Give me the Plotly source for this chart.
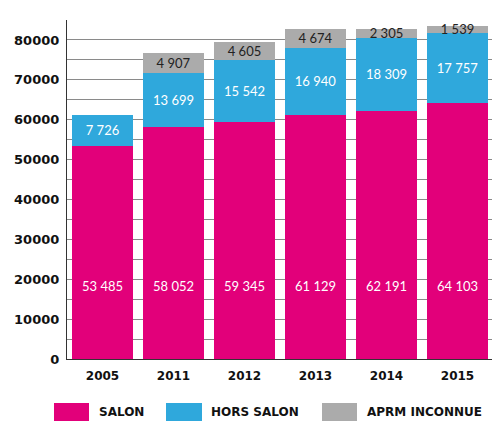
import plotly.graph_objects as go

years = ["2005", "2011", "2012", "2013", "2014", "2015"]
salon = [53485, 58052, 59345, 61129, 62191, 64103]
hors_salon = [7726, 13699, 15542, 16940, 18309, 17757]
aprm_inconnue = [None, 4907, 4605, 4674, 2305, 1539]

series_names = ["SALON", "HORS SALON", "APRM INCONNUE"]
colors = ["#E2007A", "#2FA8DC", "#ABABAB"]


def fmt(v):
    return "" if v is None else f"{v:,}".replace(",", " ")


label_font = dict(family="Lato", size=13)
fig = go.Figure()

fig.add_trace(go.Bar(x=years, y=salon, name=series_names[0],
                     marker=dict(color=colors[0], line=dict(width=0))))
fig.add_trace(go.Bar(x=years, y=hors_salon, name=series_names[1],
                     marker=dict(color=colors[1], line=dict(width=0)),
                     text=[fmt(v) for v in hors_salon], textposition="inside",
                     insidetextanchor="middle", constraintext="none",
                     textfont=dict(label_font, color="white")))
fig.add_trace(go.Bar(x=years, y=aprm_inconnue, name=series_names[2],
                     marker=dict(color=colors[2], line=dict(width=0)),
                     text=[fmt(v) for v in aprm_inconnue], textposition="inside",
                     insidetextanchor="middle", constraintext="none",
                     textfont=dict(label_font, color="#222222")))

# salon values sit low in the bar in the original
fig.add_trace(go.Scatter(x=years, y=[17800] * len(years), mode="text",
                         text=[fmt(v) for v in salon],
                         textfont=dict(label_font, color="white"),
                         cliponaxis=False))

# page has an 8px body margin; plot area spans x 67..493, y 20..359
PL, PW, PB, PH = 67, 426, 359, 339

# custom legend with wide swatches (pixel positions in the page)
legend_pos = [(54, 89, 97), (166, 202, 209), (322, 357, 365)]
for name, col, (x0, x1, tx) in zip(series_names, colors, legend_pos):
    fig.add_shape(type="rect", xref="paper", yref="paper",
                  x0=(x0 - PL) / PW, x1=(x1 - PL) / PW,
                  y0=-(403 - PB) / PH, y1=-(421 - PB) / PH,
                  fillcolor=col, line=dict(width=0))
    fig.add_annotation(xref="paper", yref="paper", x=(tx - PL) / PW,
                       y=-(412 - PB) / PH, xanchor="left", yanchor="middle",
                       text=name, showarrow=False,
                       font=dict(family="DejaVu Sans", size=12, weight="bold",
                                 color="#111111"))

fig.update_layout(
    width=492, height=413,
    margin=dict(l=59, r=7, t=12, b=62),
    barmode="stack", bargap=0.14,
    plot_bgcolor="white", paper_bgcolor="white",
    showlegend=False,
    hovermode=False,
    xaxis=dict(type="category", showline=True, linecolor="#333333",
               linewidth=1.2, ticks="", ticklabelstandoff=5,
               tickfont=dict(family="DejaVu Sans", size=12, weight="bold",
                             color="#111111")),
    yaxis=dict(range=[0, 85000], dtick=10000, tickformat="d",
               showgrid=True, gridcolor="#8a8a8a", gridwidth=1,
               minor=dict(dtick=5000, showgrid=True, gridcolor="#8a8a8a",
                          gridwidth=1),
               zeroline=False, showline=True, linecolor="#333333",
               linewidth=1.2, ticks="", ticklabelstandoff=4,
               tickfont=dict(family="DejaVu Sans", size=13, weight="bold",
                             color="#111111")),
)

fig.write_html("out.html")
